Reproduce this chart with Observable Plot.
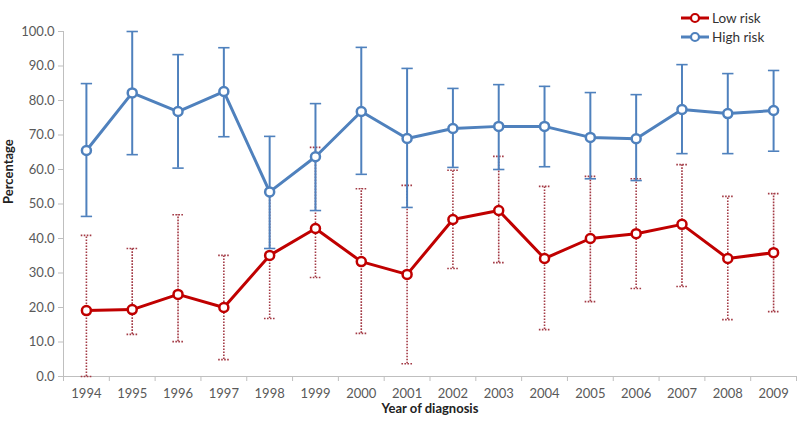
<!DOCTYPE html>
<html>
<head>
<meta charset="utf-8">
<script src="https://cdn.jsdelivr.net/npm/d3@7"></script>
<script src="https://cdn.jsdelivr.net/npm/@observablehq/plot@0.6"></script>
<style>
  body { margin: 0; background: #fff; font-family: Lato, "Open Sans", sans-serif; }
  #wrap { position: relative; width: 800px; height: 425px; }
  #legend { position: absolute; left: 680px; top: 8px; font-size: 13.5px; color: #333; }
  #legend .row { display: flex; align-items: center; height: 19px; }
  #legend svg { margin-right: 2px; }
</style>
</head>
<body>
<div id="wrap">
  <div id="chart"></div>
  <div id="legend"></div>
</div>
<script>
const years = [1994,1995,1996,1997,1998,1999,2000,2001,2002,2003,2004,2005,2006,2007,2008,2009];
const seriesNames = ["Low risk", "High risk"];
const seriesColors = ["#c00000", "#4f81bd"];

const lowValue = [19.1,19.4,23.8,20.0,35.1,42.9,33.3,29.6,45.5,48.1,34.2,40.0,41.4,44.1,34.2,35.9];
const lowUpper = [40.9,37.1,46.9,35.1,53.5,66.4,54.4,55.4,59.8,63.8,55.1,58.0,57.3,61.4,52.2,53.0];
const lowLower = [0.0,12.2,10.1,4.9,16.8,28.7,12.5,3.7,31.3,33.0,13.6,21.7,25.5,26.1,16.5,18.8];

const highValue = [65.5,82.2,76.8,82.6,53.5,63.7,76.8,69.0,71.9,72.5,72.5,69.3,68.9,77.4,76.2,77.1];
const highUpper = [84.9,100.0,93.3,95.3,69.6,79.1,95.4,89.3,83.5,84.6,84.1,82.3,81.7,90.4,87.8,88.7];
const highLower = [46.4,64.3,60.4,69.5,37.1,48.1,58.6,49.0,60.6,60.0,60.8,57.3,56.8,64.6,64.6,65.3];

const yTicks = [0,10,20,30,40,50,60,70,80,90,100];

const low = years.map((y, i) => ({year: y, value: lowValue[i], lo: lowLower[i], hi: lowUpper[i]}));
const high = years.map((y, i) => ({year: y, value: highValue[i], lo: highLower[i], hi: highUpper[i]}));
const bounds = years.map(y => y - 0.5).concat([years[years.length - 1] + 0.5]);

const capSymbol = { draw(ctx, size) { const r = Math.sqrt(size) ; ctx.moveTo(-r, 0); ctx.lineTo(r, 0); } };

const lowErr = "#a33a45";
const font = "Lato, 'Open Sans', sans-serif";

function seriesMarks(data, color, dashed) {
  const errStroke = dashed ? lowErr : color;
  const dash = dashed ? "1.6,1.4" : null;
  return [
    Plot.ruleX(data, {x: "year", y1: "lo", y2: "hi", stroke: errStroke, strokeWidth: dashed ? 1.6 : 2, strokeDasharray: dash}),
    Plot.dot(data, {x: "year", y: "hi", symbol: capSymbol, r: 3.2, stroke: errStroke, strokeWidth: 1.6, strokeDasharray: dash}),
    Plot.dot(data, {x: "year", y: "lo", symbol: capSymbol, r: 3.2, stroke: errStroke, strokeWidth: 1.6, strokeDasharray: dash}),
    Plot.line(data, {x: "year", y: "value", stroke: color, strokeWidth: 3}),
    Plot.dot(data, {x: "year", y: "value", r: 4.5, fill: "white", stroke: color, strokeWidth: 2.5})
  ];
}

const chart = Plot.plot({
  width: 800,
  height: 425,
  marginTop: 31,
  marginBottom: 49,
  marginLeft: 63,
  marginRight: 4,
  style: {fontFamily: font, fontSize: "13px", color: "#595959", background: "white"},
  x: {domain: [years[0] - 0.5, years[years.length - 1] + 0.5], label: null},
  y: {domain: [0, 100], label: null},
  marks: [
    Plot.axisY({ticks: yTicks, tickFormat: d => d.toFixed(1), tickSize: 5, tickPadding: 4, stroke: "#bfbfbf", fill: "#595959", label: null}),
    Plot.axisX({ticks: years, tickFormat: d => String(d), tickSize: 0, tickPadding: 12, fill: "#595959", label: null}),
    Plot.axisX({ticks: bounds, tickFormat: () => "", tickSize: 5, stroke: "#bfbfbf", label: null}),
    Plot.ruleX([years[0] - 0.5], {stroke: "#bfbfbf"}),
    Plot.ruleY([0], {stroke: "#bfbfbf"}),
    ...seriesMarks(low, seriesColors[0], true),
    ...seriesMarks(high, seriesColors[1], false),
    Plot.text(["Percentage"], {frameAnchor: "left", rotate: -90, dx: -55, fontWeight: "bold", fontSize: 13, fill: "#222"}),
    Plot.text(["Year of diagnosis"], {frameAnchor: "bottom", dy: 36, fontWeight: "bold", fontSize: 13, fill: "#222"})
  ]
});
document.getElementById("chart").appendChild(chart);

const legend = document.getElementById("legend");
seriesNames.forEach((name, i) => {
  const row = document.createElement("div");
  row.className = "row";
  row.innerHTML = `<svg width="30" height="12"><line x1="1" y1="6" x2="29" y2="6" stroke="${seriesColors[i]}" stroke-width="3"/><circle cx="15" cy="6" r="4" fill="white" stroke="${seriesColors[i]}" stroke-width="2.2"/></svg><span>${name}</span>`;
  legend.appendChild(row);
});
</script>
</body>
</html>
